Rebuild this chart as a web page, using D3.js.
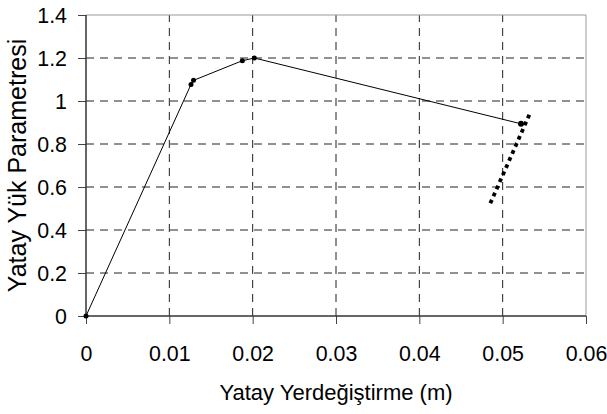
<!DOCTYPE html>
<html>
<head>
<meta charset="utf-8">
<script src="https://cdn.jsdelivr.net/npm/d3@7"></script>
<style>
  body { margin: 0; background: #fff; }
  text { font-family: "Liberation Sans", Arial, sans-serif; fill: #000; }
</style>
</head>
<body>
<svg id="graf"></svg>
<script>
// ana egri (yuk - yerdegistirme)
let yerdegistirme = [0, 0.0126, 0.0129, 0.01876, 0.0202, 0.0522]
let yukParam = [0, 1.077, 1.096, 1.1874, 1.2, 0.894]
// noktali dogru (ustten alta)
let noktaX = [0.0532, 0.04852]
let noktaY = [0.936, 0.524]

let xTicks = [0, 0.01, 0.02, 0.03, 0.04, 0.05, 0.06]
let yTicks = [0, 0.2, 0.4, 0.6, 0.8, 1, 1.2, 1.4]

function graficar() {
  let w = 607
  let h = 414
  let svg = d3.select('#graf')
              .attr('width', w)
              .attr('height', h)

  let x = d3.scaleLinear().domain([0, 0.06]).range([86, 586])
  let y = d3.scaleLinear().domain([0, 1.4]).range([316, 15])

  // grid
  svg.append('g').selectAll('line')
    .data(xTicks.slice(1, -1))
    .enter().append('line')
    .attr('x1', d => x(d)).attr('x2', d => x(d))
    .attr('y1', y(0)).attr('y2', y(1.4))
    .attr('stroke', '#222').attr('stroke-dasharray', '8,6')
  svg.append('g').selectAll('line')
    .data(yTicks.slice(1, -1))
    .enter().append('line')
    .attr('x1', x(0)).attr('x2', x(0.06))
    .attr('y1', d => y(d)).attr('y2', d => y(d))
    .attr('stroke', '#222').attr('stroke-dasharray', '8,6')

  // ust ve sag cerceve
  svg.append('path')
    .attr('d', `M${x(0)},${y(1.4)}H${x(0.06)}V${y(0)}`)
    .attr('fill', 'none').attr('stroke', '#999')

  // eksenler
  let xAxis = svg.append('g')
    .attr('transform', `translate(0,${y(0)})`)
    .call(d3.axisBottom(x).tickValues(xTicks).tickSize(8).tickPadding(21)
      .tickFormat(d => d === 0 ? '0' : d3.format('.2f')(d)))
  let yAxis = svg.append('g')
    .attr('transform', `translate(${x(0)},0)`)
    .call(d3.axisLeft(y).tickValues(yTicks).tickSize(8).tickPadding(11)
      .tickFormat(d => String(+d.toFixed(1))))
  ;[xAxis, yAxis].forEach(a => {
    a.select('.domain').remove()
    a.selectAll('line').attr('stroke', '#444')
    a.selectAll('text').style('font-size', '23px')
      .style('font-family', '"Liberation Sans", Arial, sans-serif')
  })
  // yazilar biraz dar
  xAxis.selectAll('text').attr('transform', 'scale(0.93,1)')
  yAxis.selectAll('text').attr('x', -19 / 0.93).attr('transform', 'scale(0.93,1)')

  svg.append('line')
    .attr('x1', x(0)).attr('x2', x(0.06))
    .attr('y1', y(0)).attr('y2', y(0))
    .attr('stroke', '#333').attr('stroke-width', 1.5)
  svg.append('line')
    .attr('x1', x(0)).attr('x2', x(0))
    .attr('y1', y(0)).attr('y2', y(1.4))
    .attr('stroke', '#333').attr('stroke-width', 1.5)

  // egri
  let pts = yerdegistirme.map((d, i) => [d, yukParam[i]])
  let line = d3.line().x(d => x(d[0])).y(d => y(d[1]))
  svg.append('path')
    .datum(pts)
    .attr('d', line)
    .attr('fill', 'none').attr('stroke', '#000').attr('stroke-width', 1)
  svg.append('g').selectAll('circle')
    .data(pts)
    .enter().append('circle')
    .attr('cx', d => x(d[0])).attr('cy', d => y(d[1]))
    .attr('r', (d, i) => i === pts.length - 1 ? 3 : 2.5)
    .attr('fill', '#000')

  // noktali cizgi
  let dots = noktaX.map((d, i) => [d, noktaY[i]])
  svg.append('path')
    .datum(dots)
    .attr('d', line)
    .attr('fill', 'none').attr('stroke', '#000')
    .attr('stroke-width', 3.8).attr('stroke-dasharray', '3.8,3.95')

  // eksen basliklari
  svg.append('text')
    .attr('x', (x(0) + x(0.06)) / 2).attr('y', 400)
    .attr('text-anchor', 'middle')
    .style('font-size', '22px')
    .text('Yatay Yerdeğiştirme (m)')
  svg.append('text')
    .attr('transform', `translate(26,${(y(0) + y(1.4)) / 2}) rotate(-90)`)
    .attr('text-anchor', 'middle')
    .style('font-size', '25px')
    .text('Yatay Yük Parametresi')
}

graficar()
</script>
</body>
</html>
